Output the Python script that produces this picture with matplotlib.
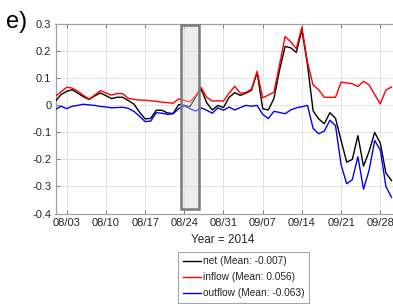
import matplotlib
matplotlib.use("Agg")
import matplotlib.pyplot as plt
import matplotlib.dates as mdates
import numpy as np
import pandas as pd

plt.rcParams['font.family'] = ['Liberation Sans', 'DejaVu Sans']

dates = pd.date_range('2014-08-01', periods=61, freq='D')

net = [0.016, 0.040, 0.052, 0.058, 0.045, 0.032, 0.022, 0.035, 0.046, 0.036,
       0.025, 0.030, 0.030, 0.018, 0.005, -0.025, -0.050, -0.048, -0.018, -0.018,
       -0.028, -0.030, 0.003, 0.000, -0.005, 0.030, 0.061, 0.010, -0.017, 0.000,
       -0.008, 0.030, 0.047, 0.037, 0.045, 0.056, 0.122, -0.012, -0.017, 0.025,
       0.130, 0.218, 0.213, 0.196, 0.279, 0.150, -0.020, -0.050, -0.068, -0.027,
       -0.048, -0.130, -0.210, -0.200, -0.112, -0.225, -0.170, -0.100, -0.140, -0.250,
       -0.278]

inflow = [0.034, 0.050, 0.067, 0.064, 0.052, 0.037, 0.023, 0.038, 0.055, 0.046,
          0.038, 0.044, 0.043, 0.026, 0.022, 0.020, 0.019, 0.017, 0.015, 0.012,
          0.010, 0.008, 0.024, 0.018, 0.013, 0.035, 0.066, 0.030, 0.016, 0.017,
          0.016, 0.045, 0.071, 0.045, 0.048, 0.060, 0.126, 0.028, 0.038, 0.049,
          0.150, 0.255, 0.235, 0.210, 0.289, 0.160, 0.075, 0.058, 0.030, 0.030,
          0.030, 0.086, 0.083, 0.080, 0.070, 0.089, 0.076, 0.040, 0.006, 0.057,
          0.068]

outflow = [-0.015, -0.003, -0.012, -0.003, 0.000, 0.004, 0.002, 0.000, -0.004, -0.006,
           -0.009, -0.008, -0.007, -0.011, -0.022, -0.040, -0.060, -0.058, -0.027, -0.029,
           -0.033, -0.031, -0.012, -0.002, -0.012, -0.021, -0.009, -0.018, -0.029, -0.009,
           -0.018, -0.006, -0.017, -0.008, 0.000, -0.003, 0.000, -0.033, -0.049, -0.022,
           -0.026, -0.031, -0.017, -0.009, -0.005, 0.000, -0.085, -0.105, -0.095, -0.055,
           -0.075, -0.220, -0.290, -0.275, -0.190, -0.310, -0.240, -0.130, -0.165, -0.300,
           -0.340]

labels = ['net (Mean: -0.007)', 'inflow (Mean: 0.056)', 'outflow (Mean: -0.063)']
colors = ['black', 'red', 'blue']

yticks = [-0.4, -0.3, -0.2, -0.1, 0, 0.1, 0.2, 0.3]
ytick_labels = ['-0.4', '-0.3', '-0.2', '-0.1', '0', '0.1', '0.2', '0.3']
xtick_dates = pd.date_range('2014-08-03', '2014-09-28', freq='7D')

box_start = pd.Timestamp('2014-08-23 10:00')
box_end = pd.Timestamp('2014-08-26 14:00')
box_y = (-0.385, 0.296)

W, H = 393, 304
fig = plt.figure(figsize=(W / 100, H / 100), dpi=100)
ax = fig.add_axes([55.5 / W, (H - 213.5) / H, 341.6 / W, 189.2 / H])

for series, lab, col in zip([net, inflow, outflow], labels, colors):
    ax.plot(dates, series, color=col, lw=1.0, label=lab, zorder=3)

# highlighted window
x0 = mdates.date2num(box_start)
x1 = mdates.date2num(box_end)
rect = plt.Rectangle((x0, box_y[0]), x1 - x0, box_y[1] - box_y[0],
                     facecolor='#d9d9d9', alpha=0.45, edgecolor='none', zorder=4)
ax.add_patch(rect)
rect2 = plt.Rectangle((x0, box_y[0]), x1 - x0, box_y[1] - box_y[0],
                      facecolor='none', edgecolor='#7a7a7a', lw=1.8, zorder=5)
ax.add_patch(rect2)

ax.set_xlim(pd.Timestamp('2014-08-01'), pd.Timestamp('2014-10-01'))
ax.set_ylim(-0.4, 0.3)
ax.set_yticks(yticks)
ax.set_yticklabels(ytick_labels)
ax.set_xticks(xtick_dates)
ax.xaxis.set_major_formatter(mdates.DateFormatter('%m/%d'))

ax.grid(True, color='#e3e3e3', lw=0.7, zorder=0)
ax.set_axisbelow(True)
for s in ax.spines.values():
    s.set_color('#a0a0a0')
    s.set_linewidth(0.9)
ax.tick_params(direction='in', length=3, width=0.6, color='#707070',
               labelsize=8, labelcolor='#262626', pad=3,
               top=True, right=True)

fig.text(223 / W, 1 - 240 / H, 'Year = 2014', ha='center', va='center',
         fontsize=8.5, color='#262626')
fig.text(6 / W, 1 - 22 / H, 'e)', ha='left', va='center', fontsize=17, color='black')

handles, labs = ax.get_legend_handles_labels()
leg = fig.legend(handles, labs, loc='upper left',
                 bbox_to_anchor=(178 / W, 1 - 251.5 / H), borderaxespad=0,
                 fontsize=7.3, frameon=True, fancybox=False, handlelength=1.8,
                 handletextpad=0.2, labelspacing=0.6, borderpad=0.45)
leg.get_frame().set_edgecolor('#909090')
leg.get_frame().set_linewidth(0.8)
for t in leg.get_texts():
    t.set_color('#262626')

fig.savefig('out.png', dpi=100)
